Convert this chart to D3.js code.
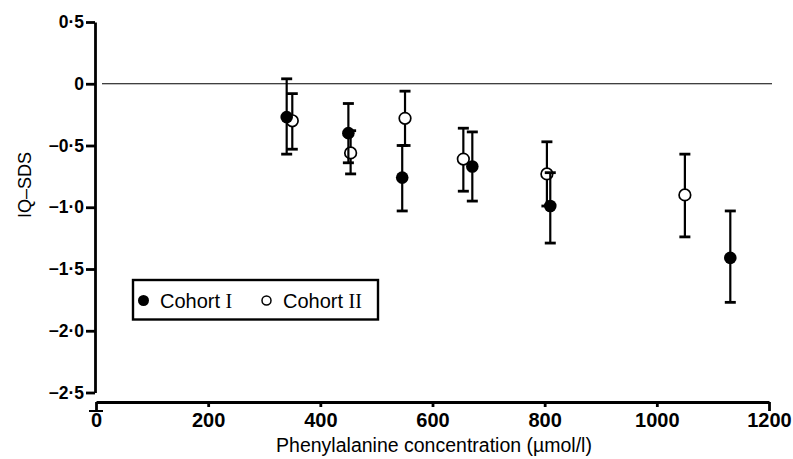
<!DOCTYPE html>
<html>
<head>
<meta charset="utf-8">
<script src="https://cdn.jsdelivr.net/npm/d3@7"></script>
<style>
  body { margin: 0; background: #fff; }
  text { font-family: "Liberation Sans", Arial, sans-serif; fill: #000; }
</style>
</head>
<body>
<script>
const WIDTH = 793;
const HEIGHT = 459;

// data
const cohort1X    = [340, 450, 546, 671, 810, 1131];
const cohort1Mean = [-0.27, -0.40, -0.76, -0.67, -0.99, -1.41];
const cohort1Hi   = [0.04, -0.16, -0.50, -0.39, -0.72, -1.03];
const cohort1Lo   = [-0.57, -0.64, -1.03, -0.95, -1.29, -1.77];

const cohort2X    = [350, 454, 551, 655, 804, 1050];
const cohort2Mean = [-0.30, -0.56, -0.28, -0.61, -0.73, -0.90];
const cohort2Hi   = [-0.08, -0.38, -0.06, -0.36, -0.47, -0.57];
const cohort2Lo   = [-0.53, -0.73, -0.50, -0.87, -0.99, -1.24];

const xTicks = [0, 200, 400, 600, 800, 1000, 1200];
const yTicks = [0.5, 0, -0.5, -1.0, -1.5, -2.0, -2.5];
const yTickLabels = ['0\u00b75', '0', '\u22120\u00b75', '\u22121\u00b70', '\u22121\u00b75', '\u22122\u00b70', '\u22122\u00b75'];

const x = d3.scaleLinear().domain([0, 1200]).range([96, 769]);
const y = d3.scaleLinear().domain([0.5, -2.5]).range([22, 392.5]);

const svg = d3.select('body')
    .append('svg')
    .attr('width', WIDTH)
    .attr('height', HEIGHT);

// y axis
const yAxis = svg.append('g')
    .attr('transform', 'translate(95, 0)')
    .call(d3.axisLeft(y)
        .tickValues(yTicks)
        .tickFormat((d, i) => yTickLabels[i])
        .tickSize(9)
        .tickSizeOuter(0)
        .tickPadding(2));
yAxis.select('.domain').attr('stroke-width', 2.8);
yAxis.selectAll('.tick line').attr('stroke-width', 2.8);
yAxis.selectAll('.tick text')
    .style('font-size', '17.5px')
    .style('font-weight', 'bold');

// x axis (separate, below)
const xAxis = svg.append('g')
    .attr('transform', 'translate(0, 402)')
    .call(d3.axisBottom(x)
        .tickValues(xTicks)
        .tickFormat(d3.format('d'))
        .tickSize(5)
        .tickSizeOuter(0)
        .tickPadding(6));
xAxis.select('.domain').attr('stroke-width', 2.8);
xAxis.selectAll('.tick line')
    .attr('stroke-width', 2.8)
    .attr('y2', d => (d === 0 || d === 1200) ? 9 : 5);
xAxis.selectAll('.tick text')
    .style('font-family', '"Liberation Sans Narrow", "Liberation Sans", Arial, sans-serif')
    .style('font-size', '20px')
    .style('font-weight', 'bold');
// little foot under the zero tick
xAxis.append('line')
    .attr('x1', x(0) - 7)
    .attr('x2', x(0) + 7)
    .attr('y1', 9)
    .attr('y2', 9)
    .attr('stroke', 'black')
    .attr('stroke-width', 2);

// zero reference line
svg.append('line')
    .attr('x1', 102)
    .attr('x2', 772)
    .attr('y1', y(0))
    .attr('y2', y(0))
    .attr('stroke', 'black')
    .attr('stroke-width', 1.2);

// axis titles
svg.append('text')
    .attr('transform', `translate(25, ${y(-0.82)}) rotate(-90)`)
    .attr('text-anchor', 'middle')
    .attr('dy', '0.35em')
    .style('font-size', '18px')
    .text('IQ\u2013SDS');

svg.append('text')
    .attr('x', 434)
    .attr('y', 452)
    .attr('text-anchor', 'middle')
    .style('font-size', '19.5px')
    .text('Phenylalanine concentration (\u00b5mol/l)');

// error bars + points
function drawCohort(xs, means, his, los, filled) {
    const g = svg.append('g');
    const rows = xs.map((d, i) => ({ x: d, m: means[i], hi: his[i], lo: los[i] }));

    g.selectAll('line.bar')
        .data(rows)
        .join('line')
        .attr('class', 'bar')
        .attr('x1', d => x(d.x))
        .attr('x2', d => x(d.x))
        .attr('y1', d => y(d.hi))
        .attr('y2', d => y(d.lo))
        .attr('stroke', 'black')
        .attr('stroke-width', 2.2);

    ['hi', 'lo'].forEach(k => {
        g.selectAll('line.cap-' + k)
            .data(rows)
            .join('line')
            .attr('class', 'cap-' + k)
            .attr('x1', d => x(d.x) - 5.5)
            .attr('x2', d => x(d.x) + 5.5)
            .attr('y1', d => y(d[k]))
            .attr('y2', d => y(d[k]))
            .attr('stroke', 'black')
            .attr('stroke-width', 2.8);
    });

    g.selectAll('circle')
        .data(rows)
        .join('circle')
        .attr('cx', d => x(d.x))
        .attr('cy', d => y(d.m))
        .attr('r', filled ? 6.3 : 5.8)
        .attr('fill', filled ? 'black' : 'white')
        .attr('stroke', 'black')
        .attr('stroke-width', filled ? 0 : 1.7);
}

drawCohort(cohort2X, cohort2Mean, cohort2Hi, cohort2Lo, false);
drawCohort(cohort1X, cohort1Mean, cohort1Hi, cohort1Lo, true);

// legend
const legend = svg.append('g');
legend.append('rect')
    .attr('x', 133)
    .attr('y', 280)
    .attr('width', 245)
    .attr('height', 39.5)
    .attr('fill', 'none')
    .attr('stroke', 'black')
    .attr('stroke-width', 2.4);
legend.append('circle')
    .attr('cx', 143.5)
    .attr('cy', 300.5)
    .attr('r', 5.5)
    .attr('fill', 'black');
legend.append('circle')
    .attr('cx', 266.5)
    .attr('cy', 300.5)
    .attr('r', 4.5)
    .attr('fill', 'white')
    .attr('stroke', 'black')
    .attr('stroke-width', 1.5);

const leg1 = legend.append('text')
    .attr('x', 160)
    .attr('y', 307.5)
    .style('font-size', '20px');
leg1.append('tspan').text('Cohort ');
leg1.append('tspan').style('font-family', '"Liberation Serif", serif').text('I');

const leg2 = legend.append('text')
    .attr('x', 283)
    .attr('y', 307.5)
    .style('font-size', '20px');
leg2.append('tspan').text('Cohort ');
leg2.append('tspan').style('font-family', '"Liberation Serif", serif').text('II');
</script>
</body>
</html>
